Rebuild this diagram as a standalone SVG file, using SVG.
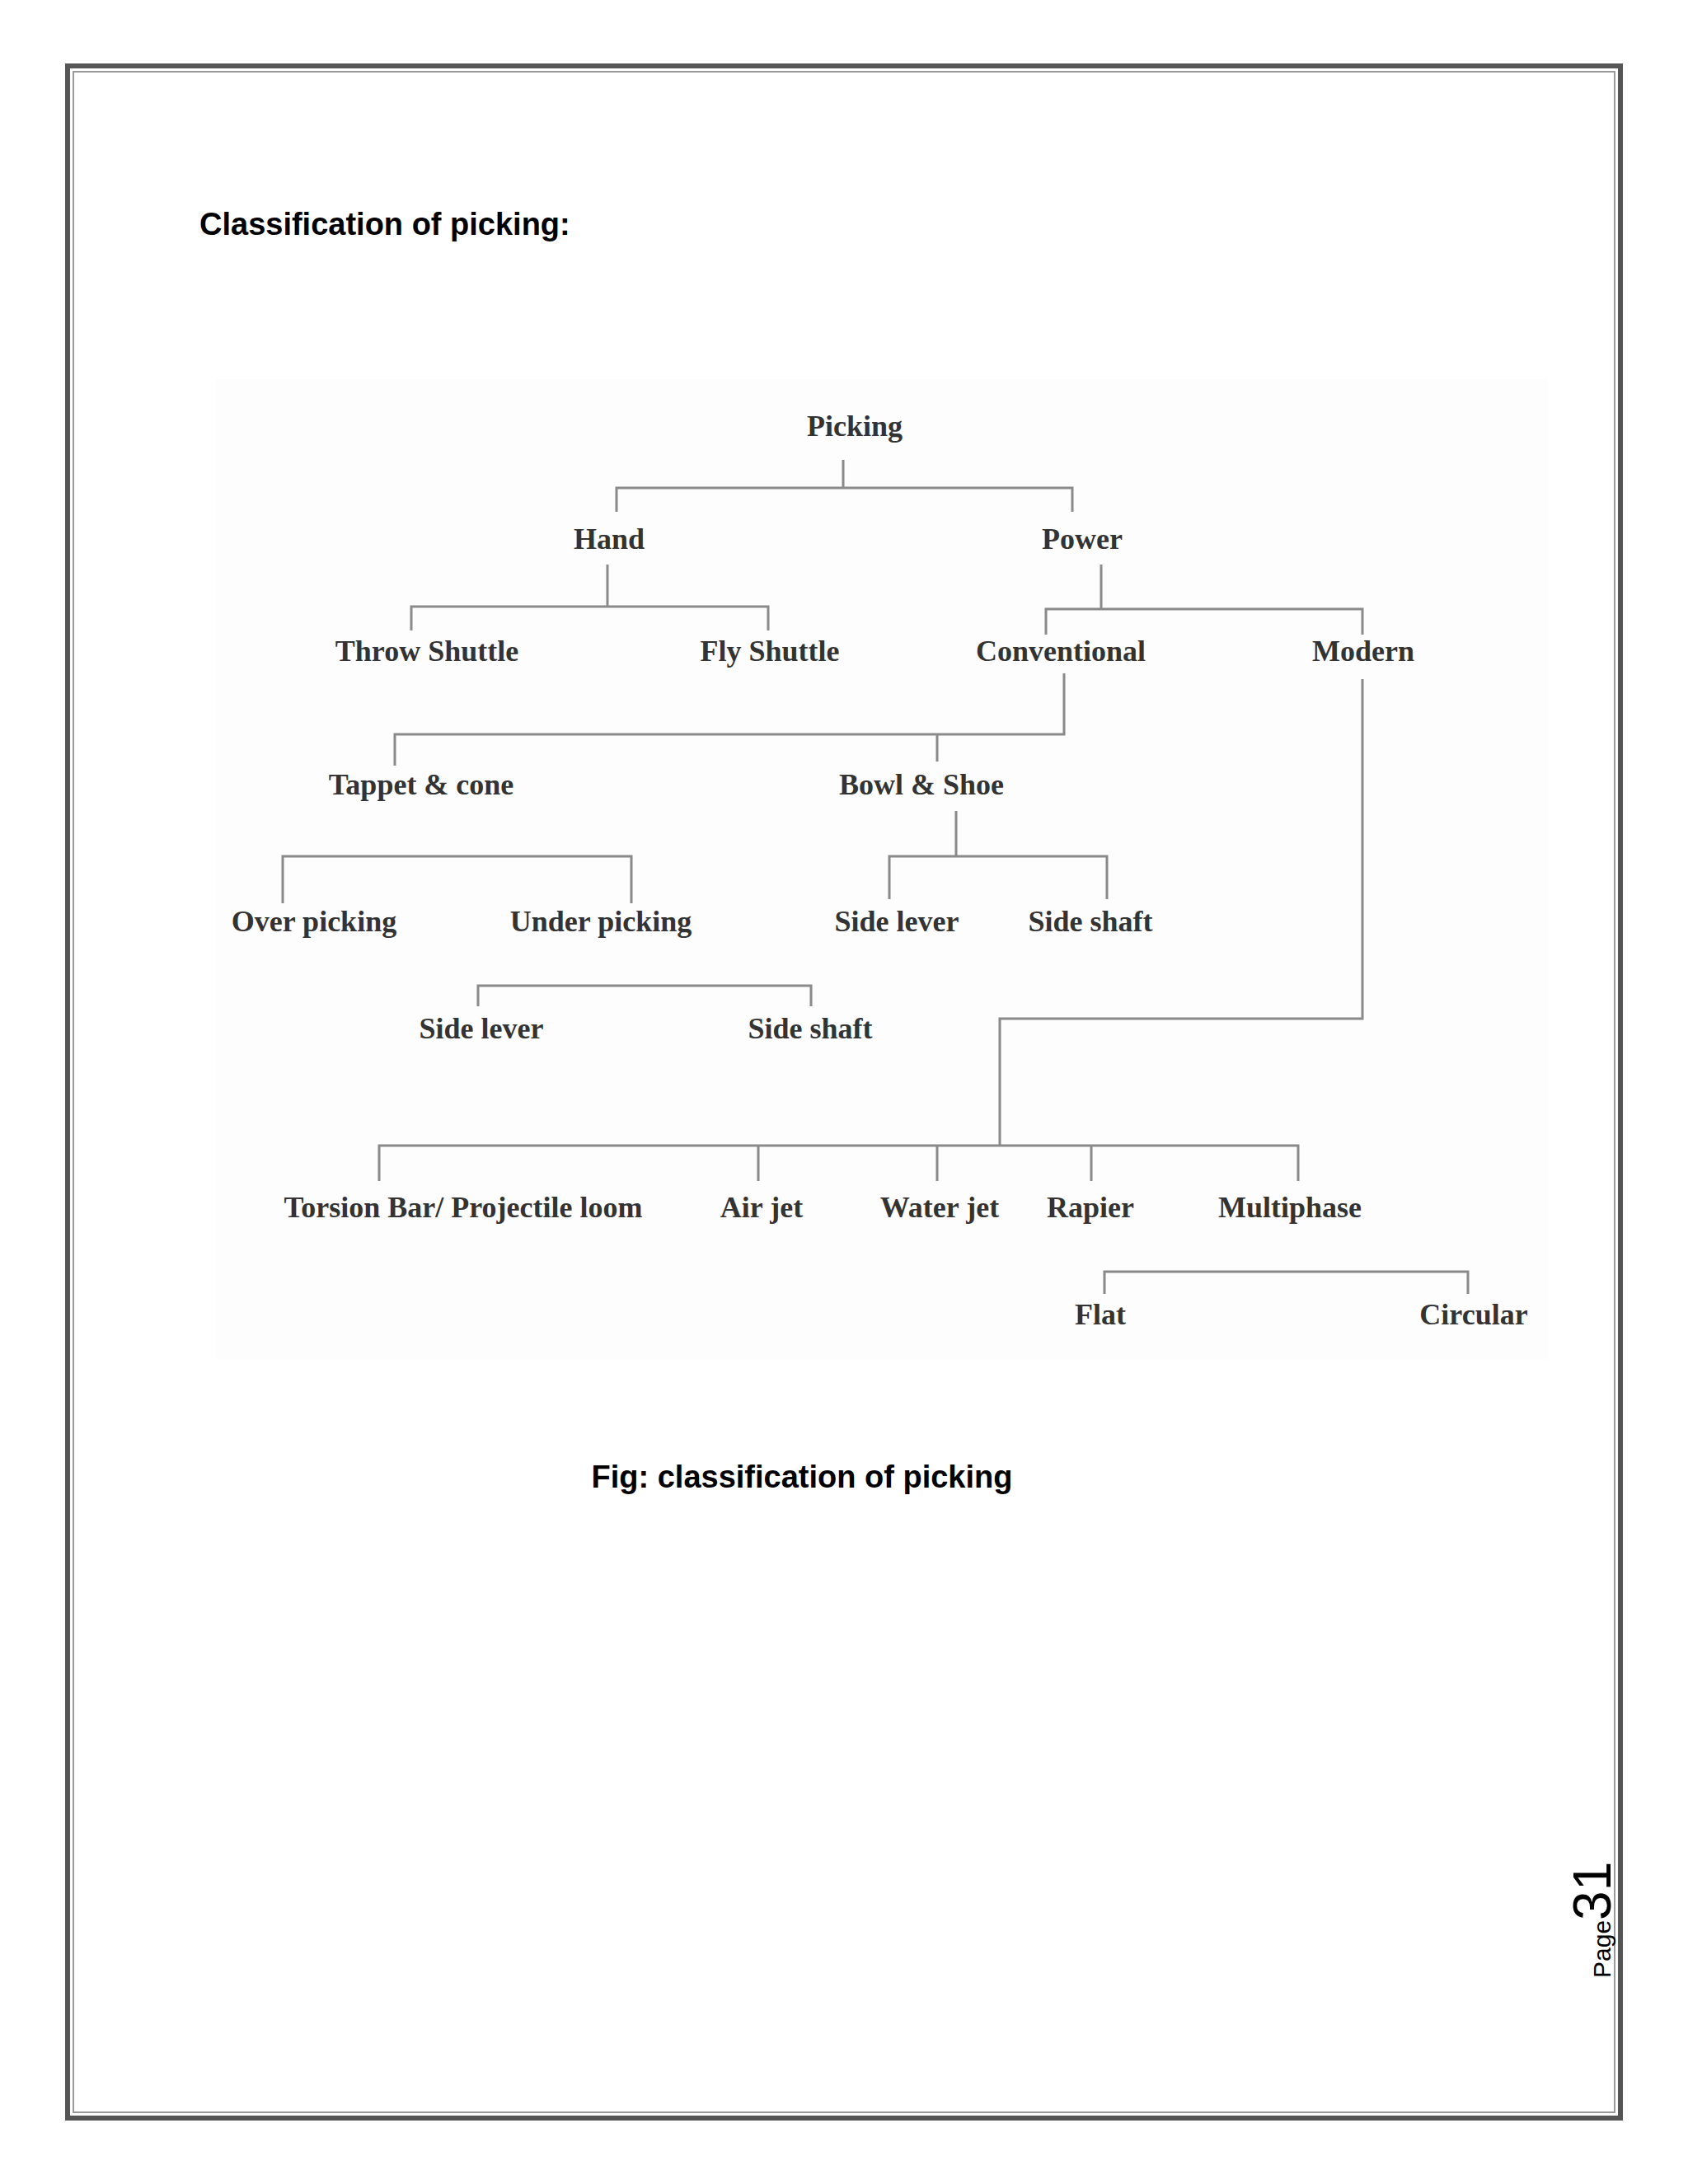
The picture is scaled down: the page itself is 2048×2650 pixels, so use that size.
<svg xmlns="http://www.w3.org/2000/svg" width="2048" height="2650" viewBox="0 0 2048 2650">
<style>
.n{font-family:"Liberation Serif",serif;font-weight:bold;font-size:36px;fill:#333;text-anchor:middle}
.c path{stroke:#8a8a8a;stroke-width:3;fill:none}
.h{font-family:"Liberation Sans","Open Sans",sans-serif;font-weight:bold;font-size:38px;fill:#000}
</style>
<rect width="2048" height="2650" fill="#fff"/>
<rect x="82" y="80" width="1884" height="2490" fill="none" stroke="#555" stroke-width="6"/>
<rect x="89" y="87" width="1870" height="2476" fill="none" stroke="#999" stroke-width="2"/>
<rect x="262" y="460" width="1616" height="1189" fill="#fdfdfe"/>
<text class="h" x="242" y="285">Classification of picking:</text>
<g class="c" id="connectors">
<path d="M1023 558V592M748 621V592H1301V621"/>
<path d="M737 685V736M499 765V736H932V765"/>
<path d="M1336 685V739M1269 770V739H1653V770"/>
<path d="M1291 817V891H479V929M1137 891V924"/>
<path d="M1160 984V1039M1079 1091V1039H1343V1091"/>
<path d="M343 1096V1039H766V1096"/>
<path d="M580 1221V1196H984V1221"/>
<path d="M1653 824V1236H1213V1390M460 1433V1390H1575V1433M920 1390V1433M1137 1390V1433M1324 1390V1433"/>
<path d="M1340 1570V1543H1781V1570"/>
</g>
<g id="picking"><text class="n" x="1037" y="529">Picking</text></g>
<g id="hand"><text class="n" x="739" y="666">Hand</text></g>
<g id="power"><text class="n" x="1313" y="666">Power</text></g>
<g id="throw"><text class="n" x="518" y="802">Throw Shuttle</text></g>
<g id="fly"><text class="n" x="934" y="802">Fly Shuttle</text></g>
<g id="conventional"><text class="n" x="1287" y="802">Conventional</text></g>
<g id="modern"><text class="n" x="1654" y="802">Modern</text></g>
<g id="tappet"><text class="n" x="511" y="964">Tappet &amp; cone</text></g>
<g id="bowl"><text class="n" x="1118" y="964">Bowl &amp; Shoe</text></g>
<g id="sidelever1"><text class="n" x="1088" y="1130">Side lever</text></g>
<g id="sideshaft1"><text class="n" x="1323" y="1130">Side shaft</text></g>
<g id="over"><text class="n" x="381" y="1130">Over picking</text></g>
<g id="under"><text class="n" x="729" y="1130">Under picking</text></g>
<g id="sidelever2"><text class="n" x="584" y="1260">Side lever</text></g>
<g id="sideshaft2"><text class="n" x="983" y="1260">Side shaft</text></g>
<g id="torsion"><text class="n" x="562" y="1477">Torsion Bar/ Projectile loom</text></g>
<g id="airjet"><text class="n" x="924" y="1477">Air jet</text></g>
<g id="waterjet"><text class="n" x="1140" y="1477">Water jet</text></g>
<g id="rapier"><text class="n" x="1323" y="1477">Rapier</text></g>
<g id="multiphase"><text class="n" x="1565" y="1477">Multiphase</text></g>
<g id="flat"><text class="n" x="1335" y="1607">Flat</text></g>
<g id="circular"><text class="n" x="1788" y="1607">Circular</text></g>
<text class="h" x="973" y="1805" text-anchor="middle">Fig: classification of picking</text>
<text transform="translate(1954 2400) rotate(-90)" font-family="Liberation Sans,sans-serif" fill="#000"><tspan font-size="30">Page</tspan><tspan font-size="64">31</tspan></text>
</svg>
